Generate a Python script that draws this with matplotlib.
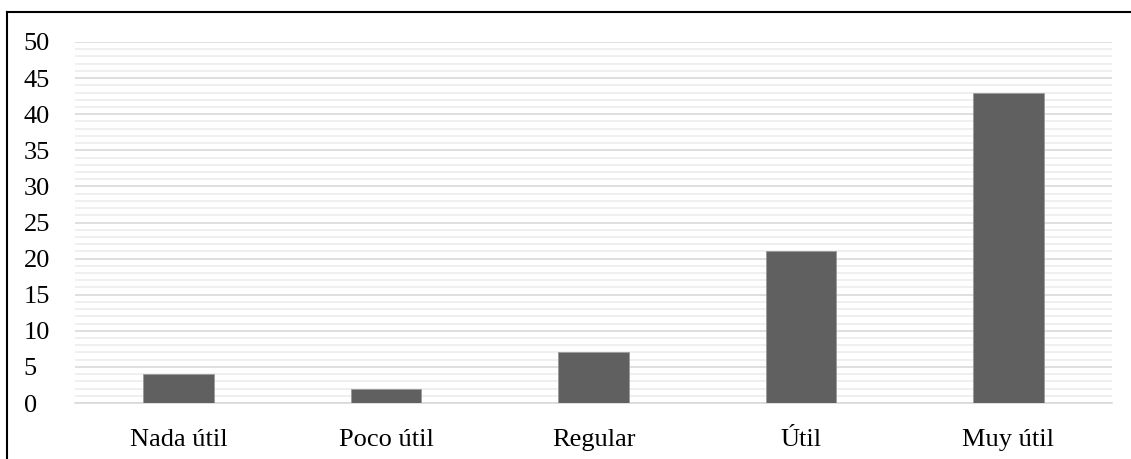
import matplotlib.pyplot as plt
from matplotlib.lines import Line2D

categories = ["Nada útil", "Poco útil", "Regular", "Útil", "Muy útil"]
values = [4, 2, 7, 21, 43]
y_ticks = [0, 5, 10, 15, 20, 25, 30, 35, 40, 45, 50]

plt.rcParams["font.family"] = ["Liberation Serif", "DejaVu Serif"]

fig = plt.figure(figsize=(11.31, 4.59), dpi=100)
ax = fig.add_axes([75 / 1131, 1 - 403 / 459, (1112 - 75) / 1131, (403 - 42) / 459])

x = list(range(len(categories)))
ax.bar(x, values, width=0.34, color="#606060", edgecolor="#9a9a9a", linewidth=0.6, zorder=3)

ax.set_xlim(-0.5, len(categories) - 0.5)
ax.set_ylim(0, 50)
ax.set_yticks(y_ticks)
ax.set_yticks(range(0, 51), minor=True)
ax.set_xticks(x)
ax.set_xticklabels(categories, fontsize=19)
ax.tick_params(axis="y", labelsize=19, length=0)
ax.tick_params(axis="y", which="minor", length=0)
ax.tick_params(axis="x", length=0, pad=19)
for lbl in ax.get_yticklabels():
    lbl.set_horizontalalignment("left")
ax.yaxis.set_tick_params(pad=37)

ax.grid(axis="y", which="major", color="#d9d9d9", linewidth=1.2, zorder=0)
ax.grid(axis="y", which="minor", color="#ececec", linewidth=1.2, zorder=0)
ax.set_axisbelow(True)

for side in ["top", "right", "left"]:
    ax.spines[side].set_visible(False)
ax.spines["bottom"].set_color("#d9d9d9")
ax.spines["bottom"].set_linewidth(1.2)

# outer frame: left and top edges only
fig.add_artist(Line2D([7 / 1131, 7 / 1131], [0, 1 - 12 / 459], color="black", linewidth=1.5))
fig.add_artist(Line2D([7 / 1131, 1130 / 1131], [1 - 12 / 459, 1 - 12 / 459], color="black", linewidth=1.5))

fig.savefig("out.png", dpi=100)
